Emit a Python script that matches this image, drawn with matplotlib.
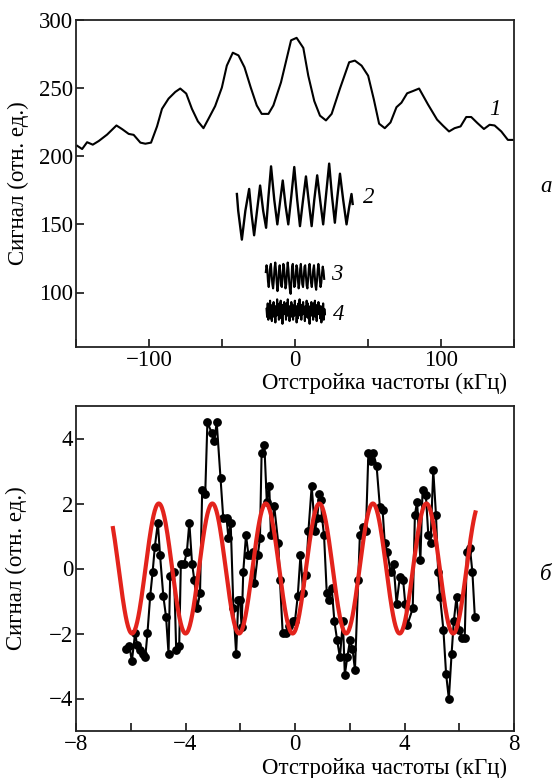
import numpy as np
import matplotlib
matplotlib.use("Agg")
import matplotlib.pyplot as plt

plt.rcParams['font.family'] = ['Liberation Serif', 'DejaVu Serif']
plt.rcParams['axes.unicode_minus'] = True

# ---------------- panel a data ----------------
curve1_x = [-149.2, -145.8, -142.4, -138.5, -134.4, -128.7, -122.3, -118.4, -113.9, -110.5,
            -105.9, -102.5, -98.6, -94.5, -91.1, -86.6, -82.0, -78.6, -74.5, -70.6,
            -66.5, -62.7, -59.2, -54.7, -50.1, -46.7, -42.6, -38.7, -34.6, -30.3,
            -26.2, -22.8, -18.2, -14.8, -9.6, -2.7, 1.1, 5.7, 9.1, 13.2,
            17.1, 21.2, 25.1, 30.8, 37.1, 41.0, 45.6, 50.1, 54.0, 57.6,
            61.5, 65.4, 69.5, 72.9, 76.8, 80.9, 85.0, 91.1, 97.3, 101.4,
            105.5, 109.3, 113.4, 117.3, 120.7, 124.9, 129.4, 133.3, 136.7, 141.3,
            145.8, 150.0]
curve1_y = [207.7, 205.3, 210.3, 208.5, 211.2, 215.9, 222.6, 219.9, 216.4, 215.7,
            210.0, 209.2, 210.0, 221.9, 234.8, 242.3, 247.2, 249.7, 246.0, 234.8,
            225.6, 220.6, 227.6, 236.8, 250.4, 266.5, 276.0, 274.0, 265.3, 250.4,
            237.3, 231.1, 231.1, 237.3, 254.2, 285.1, 286.9, 279.5, 259.1, 240.5,
            229.8, 226.3, 231.1, 249.7, 269.0, 270.2, 266.5, 259.1, 241.7, 223.9,
            220.6, 224.8, 236.0, 239.3, 246.2, 247.9, 249.7, 238.0, 226.9, 222.4,
            218.2, 220.6, 221.9, 228.8, 228.8, 224.4, 220.0, 223.1, 222.6, 218.2,
            212.0, 212.0]

curve2_x = [-39.8, -38.9, -36.4, -34.0, -31.4, -29.8, -28.0, -25.9, -23.9, -21.8,
            -19.8, -18.2, -16.4, -14.2, -12.1, -10.3, -8.4, -6.5, -4.6, -2.5,
            -0.5, 1.5, 3.4, 5.4, 7.5, 9.5, 11.4, 13.2, 15.2, 17.3,
            19.3, 21.3, 23.4, 25.3, 27.3, 29.0, 30.8, 33.0, 35.3, 37.0,
            38.7, 39.5]
curve2_y = [172.3, 160.0, 138.8, 160.0, 176.0, 158.0, 142.0, 161.0, 178.5, 160.0,
            147.5, 170.0, 192.6, 168.0, 150.0, 166.0, 182.2, 164.0, 150.0, 171.0,
            192.1, 168.0, 148.7, 167.0, 185.2, 166.0, 148.7, 168.0, 186.0, 167.0,
            150.0, 172.0, 194.6, 171.0, 151.2, 170.0, 187.2, 168.0, 150.0, 162.0,
            172.3, 165.0]

curve3_y = [115, 120, 117, 108, 104, 110, 119, 121, 113, 106,
            103, 109, 118, 122, 116, 107, 101, 106, 116, 120,
            114, 105, 104, 112, 121, 119, 110, 103, 106, 115,
            122, 117, 108, 102, 99, 108, 119, 121, 112, 104,
            105, 113, 120, 118, 109, 103, 107, 117, 121, 114,
            106, 104, 111, 119, 120, 112, 105, 103, 110, 118,
            121, 115, 107, 104, 109, 117, 120, 113, 105, 102,
            108, 116, 121, 117, 109, 104, 107, 114, 119, 116, 110]
curve3_xrange = [-20.0, 20.0]

curve4_y = [88, 82, 92, 80, 90, 84, 94, 81, 87, 79, 91, 85, 93, 82, 86, 78, 90, 83, 95, 84,
            89, 80, 92, 86, 94, 81, 88, 77, 91, 84, 93, 85, 89, 80, 92, 83, 95, 86, 90, 79,
            87, 82, 93, 85, 91, 80, 88, 83, 94, 84, 90, 78, 86, 81, 92, 85, 95, 83, 89, 80,
            91, 84, 93, 86, 88, 79, 90, 82, 94, 85, 92, 81, 87, 77, 90, 84, 93, 83, 89, 80,
            92, 86, 94, 82, 88, 79, 91, 84, 93, 85, 89, 81, 90, 78, 86, 83, 92, 80, 88, 84]
curve4_xrange = [-19.5, 20.5]

# ---------------- panel b data ----------------
pts_x = [-6.17, -6.05, -5.96, -5.84, -5.77, -5.66, -5.55, -5.47, -5.39, -5.29,
         -5.20, -5.12, -5.01, -4.93, -4.81, -4.71, -4.62, -4.56, -4.42, -4.34,
         -4.23, -4.17, -4.05, -3.95, -3.86, -3.76, -3.68, -3.57, -3.47, -3.39,
         -3.28, -3.20, -3.04, -2.95, -2.86, -2.72, -2.62, -2.50, -2.43, -2.35,
         -2.25, -2.15, -2.07, -2.01, -1.95, -1.89, -1.79, -1.70, -1.62, -1.52,
         -1.48, -1.36, -1.28, -1.22, -1.12, -1.03, -0.94, -0.88, -0.76, -0.61,
         -0.55, -0.45, -0.33, -0.21, -0.08, 0.00, 0.10, 0.20, 0.30, 0.40,
         0.49, 0.61, 0.73, 0.81, 0.89, 0.95, 0.99, 1.06, 1.16, 1.25,
         1.34, 1.44, 1.54, 1.64, 1.75, 1.82, 1.91, 2.01, 2.10, 2.19,
         2.31, 2.37, 2.47, 2.59, 2.68, 2.77, 2.86, 2.98, 3.10, 3.20,
         3.28, 3.37, 3.49, 3.60, 3.71, 3.83, 3.95, 4.03, 4.10, 4.30,
         4.38, 4.46, 4.58, 4.66, 4.78, 4.87, 4.95, 5.05, 5.15, 5.23,
         5.30, 5.42, 5.52, 5.62, 5.72, 5.80, 5.90, 6.00, 6.10, 6.20,
         6.28, 6.39, 6.48, 6.57]
pts_y = [-2.47, -2.37, -2.86, -1.98, -2.35, -2.50, -2.62, -2.73, -1.99, -0.85,
         -0.10, 0.67, 1.41, 0.41, -0.85, -1.49, -2.62, -0.24, -0.10, -2.50,
         -2.37, 0.15, 0.15, 0.51, 1.41, 0.15, -0.34, -1.23, -0.75, 2.42,
         2.29, 4.50, 4.17, 3.91, 4.50, 2.78, 1.54, 1.54, 0.93, 1.41,
         -1.23, -2.62, -0.98, -0.98, -1.80, -0.10, 1.03, 0.41, 0.41, 0.51,
         -0.46, 0.41, 0.93, 3.55, 3.80, 2.06, 2.54, 1.03, 1.92, 0.77,
         -0.36, -1.99, -1.99, -1.78, -1.61, -1.61, -0.85, 0.41, -0.75, -0.21,
         1.15, 2.54, 1.15, 1.54, 2.28, 2.11, 1.54, 1.03, -0.75, -0.96,
         -0.59, -1.63, -2.21, -2.73, -1.63, -3.27, -2.73, -2.21, -2.47, -3.12,
         -0.36, 1.03, 1.28, 1.15, 3.55, 3.31, 3.55, 3.16, 1.90, 1.80,
         0.77, 0.51, -0.10, 0.15, -1.08, -0.26, -0.36, -1.10, -1.75, -1.23,
         1.65, 2.06, 0.26, 2.42, 2.26, 1.03, 0.77, 3.03, 1.65, -0.10,
         -0.88, -1.88, -3.25, -4.01, -2.63, -1.63, -0.87, -1.88, -2.13, -2.13,
         0.51, 0.64, -0.11, -1.50]

# sinusoidal fit shown in red: amplitude, period (kHz), peak position (kHz), span
fit_amplitude = 2.0
fit_period = 1.955
fit_peak = 0.89
fit_span = [-6.65, 6.59]

# ---------------- figure ----------------
fig = plt.figure(figsize=(5.55, 7.78), dpi=100)
FS = 16.5

ax1 = fig.add_axes([76/555, 1-347/778, (514-76)/555, (347-20)/778])
ax1.plot(curve1_x, curve1_y, color='black', lw=1.5)
ax1.plot(curve2_x, curve2_y, color='black', lw=1.7)
ax1.plot(np.linspace(*curve3_xrange, len(curve3_y)), curve3_y, color='black', lw=1.5)
ax1.plot(np.linspace(*curve4_xrange, len(curve4_y)), curve4_y, color='black', lw=1.5)
ax1.set_xlim(-150, 150)
ax1.set_ylim(60, 300)
ax1.set_xticks([-150, -100, -50, 0, 50, 100, 150])
ax1.set_xticklabels(['', '\u2212100', '', '0', '', '100', ''])
ax1.set_yticks([100, 150, 200, 250, 300])
ax1.set_ylabel('Сигнал (отн. ед.)', fontsize=FS, labelpad=7)
ax1.text(136.7, 234, '1', fontsize=FS, style='italic', ha='center', va='center')
ax1.text(50.5, 170, '2', fontsize=FS, style='italic', ha='center', va='center')
ax1.text(28.5, 113, '3', fontsize=FS, style='italic', ha='center', va='center')
ax1.text(29.6, 84, '4', fontsize=FS, style='italic', ha='center', va='center')
fig.text(546/555, 1-187/778, 'а', fontsize=FS, style='italic', ha='center', va='center')
fig.text(384/555, 1-383/778, 'Отстройка частоты (кГц)', fontsize=FS, ha='center', va='center')

ax2 = fig.add_axes([76/555, 1-731/778, (514-76)/555, (731-406)/778])
fx = np.linspace(fit_span[0], fit_span[1], 600)
fy = fit_amplitude * np.cos(2*np.pi*(fx - fit_peak)/fit_period)
ax2.plot(pts_x, pts_y, color='black', lw=1.5, marker='o', ms=5.3, zorder=2)
ax2.plot(fx, fy, color='#e3231c', lw=3.0, zorder=3)
ax2.set_xlim(-8, 8)
ax2.set_ylim(-5, 5)
ax2.set_xticks(np.arange(-8, 9, 2))
ax2.set_xticklabels(['\u22128', '', '\u22124', '', '0', '', '4', '', '8'])
ax2.set_yticks([-4, -2, 0, 2, 4])
ax2.set_yticklabels(['\u22124', '\u22122', '0', '2', '4'])
ax2.set_ylabel('Сигнал (отн. ед.)', fontsize=FS, labelpad=16)
fig.text(546/555, 1-575/778, 'б', fontsize=FS, style='italic', ha='center', va='center')
fig.text(384/555, 1-768/778, 'Отстройка частоты (кГц)', fontsize=FS, ha='center', va='center')

for ax in (ax1, ax2):
    for s in ax.spines.values():
        s.set_linewidth(1.3)
        s.set_color('#222222')
    ax.tick_params(direction='in', length=6, width=1.1, labelsize=FS, pad=2)

fig.savefig('out.png', dpi=100)
